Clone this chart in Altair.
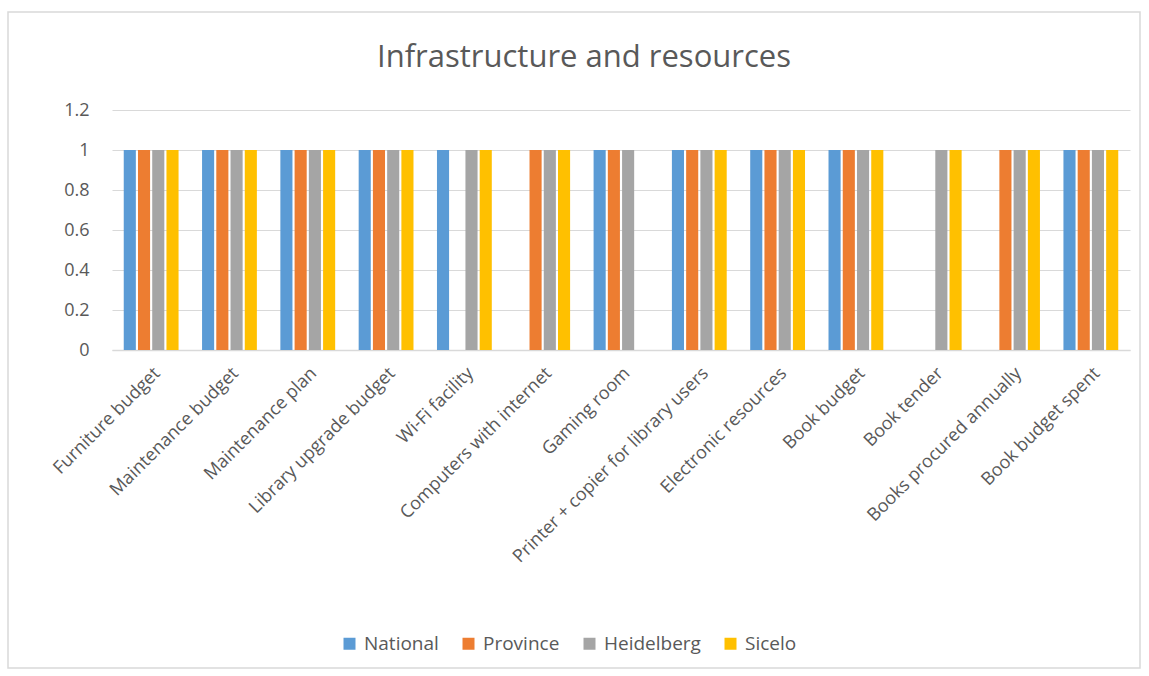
import altair as alt
import pandas as pd

categories = ["Furniture budget", "Maintenance budget", "Maintenance plan",
              "Library upgrade budget", "Wi-Fi facility", "Computers with internet",
              "Gaming room", "Printer + copier for library users", "Electronic resources",
              "Book budget", "Book tender", "Books procured annually", "Book budget spent"]
series = ["National", "Province", "Heidelberg", "Sicelo"]
national =   [1, 1, 1, 1, 1, 0, 1, 1, 1, 1, 0, 0, 1]
province =   [1, 1, 1, 1, 0, 1, 1, 1, 1, 1, 0, 1, 1]
heidelberg = [1, 1, 1, 1, 1, 1, 1, 1, 1, 1, 1, 1, 1]
sicelo =     [1, 1, 1, 1, 1, 1, 0, 1, 1, 1, 1, 1, 1]
colors = ["#5B9BD5", "#ED7D31", "#A5A5A5", "#FFC000"]
y_ticks = [0, 0.2, 0.4, 0.6, 0.8, 1.0, 1.2]
title_text = "Infrastructure and resources"

rows = []
for s, vals in zip(series, [national, province, heidelberg, sicelo]):
    for c, v in zip(categories, vals):
        rows.append({"Category": c, "Series": s, "Value": v})
df = pd.DataFrame(rows)

font = "Open Sans"
W, H = 1018, 240

bars = alt.Chart(df).mark_bar().encode(
    x=alt.X("Category:N", sort=categories, title=None,
            scale=alt.Scale(paddingInner=0.3, paddingOuter=0.15),
            axis=alt.Axis(labelAngle=-45, labelFontSize=18, labelColor="#595959",
                          labelFont=font, ticks=False, domainColor="#D9D9D9",
                          domainWidth=1.5, labelPadding=14, labelLimit=400)),
    xOffset=alt.XOffset("Series:N", sort=series, scale=alt.Scale(paddingInner=0.15)),
    y=alt.Y("Value:Q", title=None,
            scale=alt.Scale(domain=[0, 1.2]),
            axis=alt.Axis(values=y_ticks, format="~g",
                          labelFontSize=18, labelColor="#595959", labelFont=font,
                          ticks=False, domain=False, gridColor="#D9D9D9",
                          gridWidth=1.2, labelPadding=23)),
    color=alt.Color("Series:N", sort=series,
                    scale=alt.Scale(domain=series, range=colors),
                    legend=alt.Legend(title=None, orient="none", direction="horizontal",
                                      legendX=228, legendY=524,
                                      symbolType="square", symbolSize=144,
                                      symbolStrokeWidth=0, labelOffset=5,
                                      labelFontSize=19, labelColor="#595959",
                                      labelFont=font, columnPadding=20)),
)

frame = alt.Chart(pd.DataFrame({"k": [0]})).mark_rect(
    fill=None, stroke="#D9D9D9", strokeWidth=1.5
).encode(x=alt.value(-104), x2=alt.value(1028), y=alt.value(-98), y2=alt.value(558))

title = alt.Chart(pd.DataFrame({"t": [title_text]})).mark_text(
    font=font, fontSize=31, color="#595959", align="center", baseline="alphabetic"
).encode(text="t:N", x=alt.value(472), y=alt.value(-43))

chart = alt.layer(frame, bars, title).properties(
    width=W, height=H,
    padding={"left": 112, "top": 110, "right": 19, "bottom": 326},
    autosize=alt.AutoSizeParams(type="none"),
).configure_view(stroke=None)

chart.save("out.html", embed_options={"renderer": "svg", "actions": False})
